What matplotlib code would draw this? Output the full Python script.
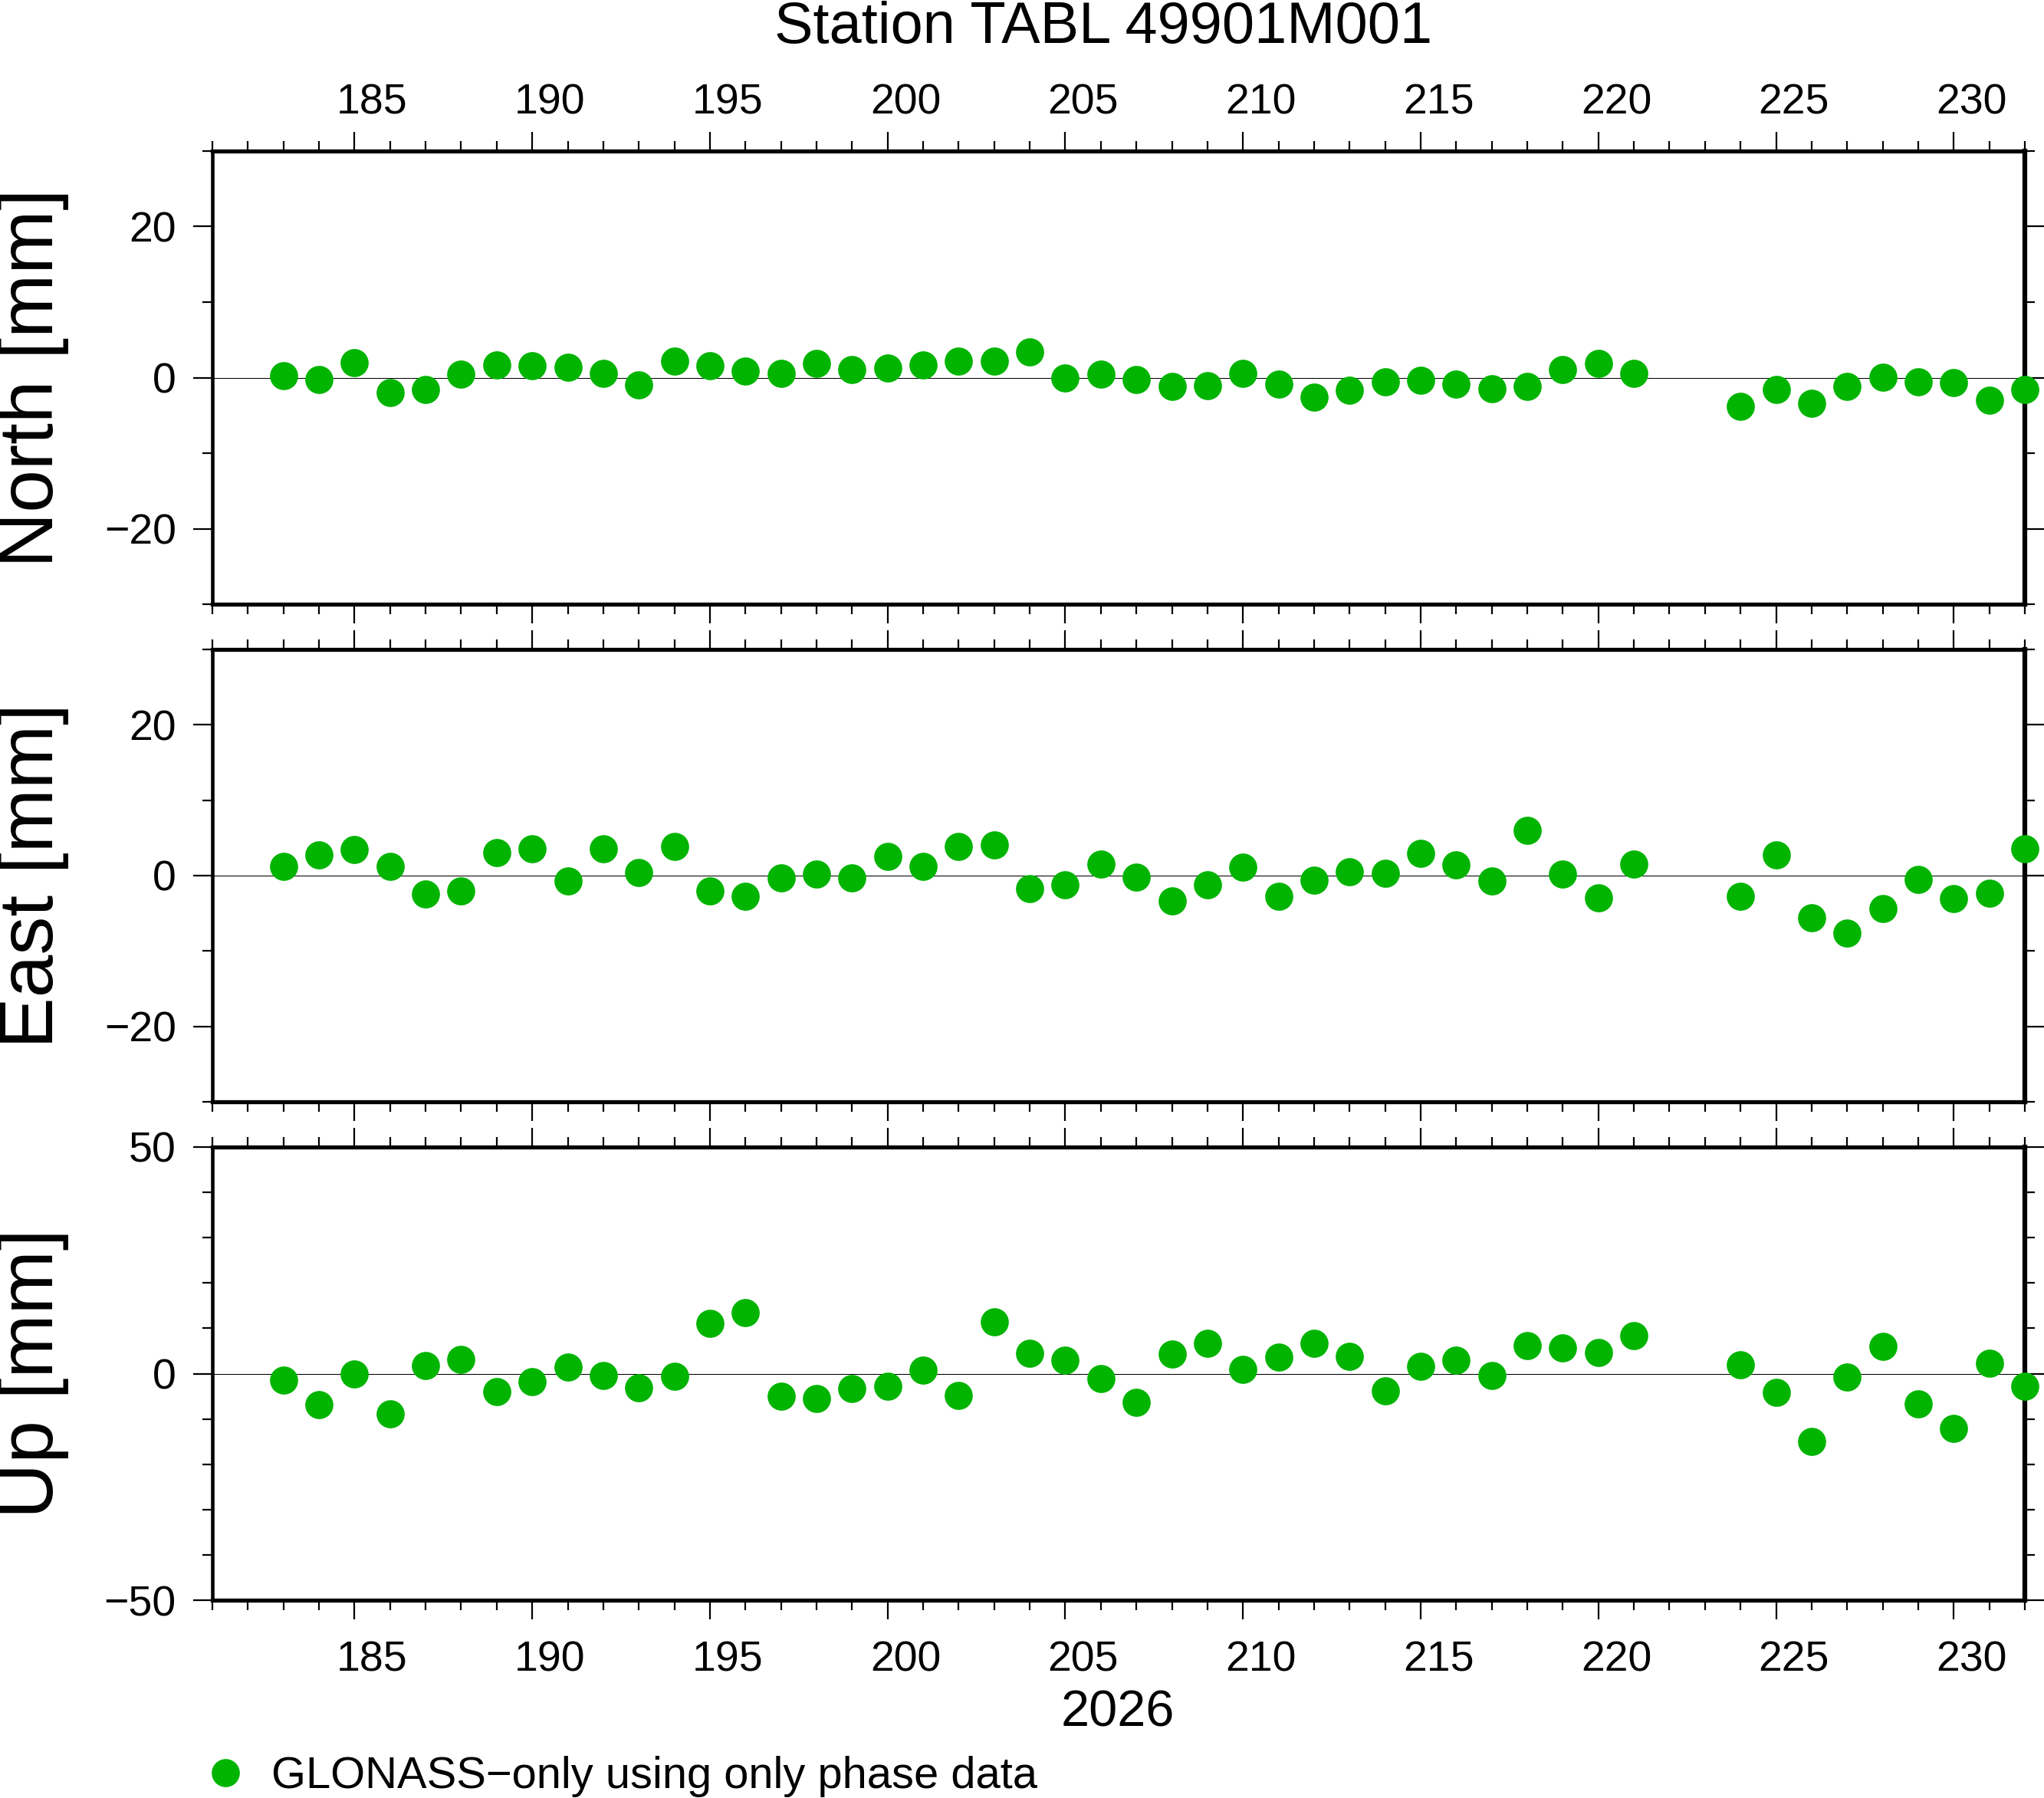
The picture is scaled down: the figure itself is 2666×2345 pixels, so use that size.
import matplotlib
matplotlib.use("Agg")
import matplotlib.pyplot as plt
from matplotlib.ticker import MultipleLocator
from matplotlib.transforms import ScaledTranslation

plt.rcParams['font.family'] = ['Liberation Sans', 'DejaVu Sans']

# ---------------- data ----------------
days = [183, 184, 185, 186, 187, 188, 189, 190, 191, 192, 193, 194, 195, 196,
        197, 198, 199, 200, 201, 202, 203, 204, 205, 206, 207, 208, 209, 210,
        211, 212, 213, 214, 215, 216, 217, 218, 219, 220, 221,
        224, 225, 226, 227, 228, 229, 230, 231, 232]

north = [0.3, -0.3, 2.0, -1.95, -1.55, 0.5, 1.7, 1.6, 1.4, 0.6, -0.95, 2.2,
         1.6, 0.9, 0.6, 1.9, 1.1, 1.3, 1.7, 2.2, 2.2, 3.4, -0.02, 0.5, -0.3,
         -1.13, -1.03, 0.6, -0.83, -2.55, -1.64, -0.6, -0.32, -0.83, -1.44,
         -1.13, 1.1, 1.9, 0.6,
         -3.77, -1.54, -3.37, -1.13, 0.08, -0.52, -0.63, -2.96, -1.54]

east = [1.17, 2.76, 3.5, 1.17, -2.4, -2.0, 3.1, 3.6, -0.68, 3.6, 0.44, 3.9,
        -2.0, -2.7, -0.3, 0.24, -0.3, 2.57, 1.17, 3.9, 4.1, -1.7, -1.2, 1.56,
        -0.19, -3.34, -1.2, 1.07, -2.7, -0.58, 0.54, 0.34, 2.98, 1.46, -0.68,
        6.0, 0.24, -2.93, 1.56,
        -2.7, 2.77, -5.55, -7.58, -4.33, -0.47, -3.03, -2.32, 3.6]

up = [-1.46, -6.85, -0.11, -8.82, 1.74, 3.09, -3.99, -1.8, 1.4, -0.45, -3.15,
      -0.62, 11.0, 13.37, -5.0, -5.5, -3.3, -2.8, 0.73, -4.83, 11.5, 4.44,
      2.92, -1.12, -6.35, 4.27, 6.63, 0.9, 3.6, 6.63, 3.76, -3.82, 1.57,
      2.92, -0.45, 6.12, 5.62, 4.61, 8.31,
      1.91, -4.16, -14.94, -0.79, 5.96, -6.69, -12.08, 2.25, -2.81]

components = ["North", "East", "Up"]
series = [north, east, up]
ylims = [(-30, 30), (-30, 30), (-50, 50)]
ymajor = [20, 20, 50]
yminor = [10, 10, 10]
xlim = (181, 232)
title = "Station TABL 49901M001"
xlabel = "2026"
legend_label = "GLONASS\u2212only using only phase data"

# ---------------- figure ----------------
W, H = 2666, 2345
DPI = 100
fig = plt.figure(figsize=(W / DPI, H / DPI), dpi=DPI)

green = '#00b400'
left = 277 / W
width = (2641 - 277) / W
panels_px = [(197, 788), (847, 1437), (1496, 2087)]
label_y = []
axes = []
for (top, bot) in panels_px:
    ax = fig.add_axes([left, 1 - bot / H, width, (bot - top) / H])
    axes.append(ax)
    label_y.append(1 - (top + bot) / 2 / H)

# day annotations are centred in the middle of each day interval
day_px = (2641 - 277) / (xlim[1] - xlim[0])
half_day = ScaledTranslation(0.5 * day_px / DPI, 0, fig.dpi_scale_trans)

spine_w = {'left': 3.3, 'top': 3.8, 'bottom': 3.8, 'right': 4.5}

for i, ax in enumerate(axes):
    ax.set_xlim(*xlim)
    ax.set_ylim(*ylims[i])
    ax.axhline(0, color='black', lw=0.75, zorder=1)
    ax.plot(days, series[i], linestyle='none', marker='o', ms=26.4,
            color=green, markeredgewidth=0, zorder=5, clip_on=False,
            label=legend_label if i == 0 else None)
    ax.xaxis.set_major_locator(MultipleLocator(5))
    ax.xaxis.set_minor_locator(MultipleLocator(1))
    ax.yaxis.set_major_locator(MultipleLocator(ymajor[i]))
    ax.yaxis.set_minor_locator(MultipleLocator(yminor[i]))
    for name, s in ax.spines.items():
        s.set_linewidth(spine_w[name])
        s.set_zorder(3)
    ax.tick_params(which='both', direction='out', top=True, right=True,
                   bottom=True, left=True, width=1.6, colors='black')
    ax.tick_params(which='major', length=18, labelsize=40)
    ax.tick_params(which='minor', length=9.4)
    ax.tick_params(axis='y', which='major', pad=16)
    if i == 0:
        ax.tick_params(axis='x', labeltop=True, labelbottom=False, pad=8)
    elif i == 1:
        ax.tick_params(axis='x', labeltop=False, labelbottom=False)
    else:
        ax.tick_params(axis='x', labeltop=False, labelbottom=True, pad=20)
    for tick in ax.xaxis.get_major_ticks():
        for lab in (tick.label1, tick.label2):
            lab.set_transform(lab.get_transform() + half_day)
    fig.text(0.0161, label_y[i], f"{components[i]} [mm]", rotation=90,
             ha='center', va='center', fontsize=72)

fig.text(1439 / W, 1 - 56 / H, title, ha='center', va='baseline', fontsize=54.5)
fig.text(1458 / W, 1 - 2251 / H, xlabel, ha='center', va='baseline', fontsize=48)

handles, labels = axes[0].get_legend_handles_labels()
fig.legend(handles, labels, loc='center left',
           bbox_to_anchor=(265 / W, 1 - 2317 / H), frameon=False,
           fontsize=41.7, handlelength=1.0, handletextpad=0.53,
           borderpad=0, borderaxespad=0, numpoints=1)

fig.savefig("out.png", dpi=DPI)
